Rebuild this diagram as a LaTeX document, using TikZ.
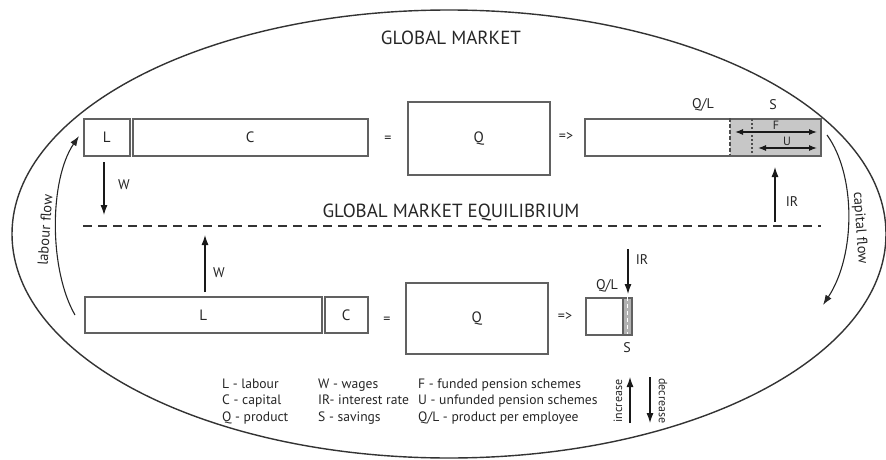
\documentclass[tikz,border=0pt]{standalone}
\usepackage{fontspec}
\setmainfont{PT Sans}
\usetikzlibrary{arrows.meta}
\begin{document}
\begin{tikzpicture}[x=1pt,y=-1pt,
  box/.style={draw=black!62, line width=1.5pt, inner sep=0pt, anchor=north west, font=\fontsize{15}{17}\selectfont, text=black!85},
  lbl/.style={font=\fontsize{14}{16}\selectfont, text=black!85, inner sep=1pt},
  small/.style={font=\fontsize{12}{14}\selectfont, text=black!85, inner sep=1pt},
  flowtxt/.style={font=\fontsize{14.5}{16}\selectfont, text=black!85, inner sep=0pt},
  leg/.style={font=\fontsize{13.6}{15}\selectfont, text=black!85, inner sep=0pt, anchor=base west},
  ttl/.style={font=\fontsize{19}{21}\selectfont, text=black!85},
  arr/.style={-{Latex[length=10pt,width=7pt]}, line width=1.1pt, black!90},
  darr/.style={{Latex[length=8pt,width=6pt]}-{Latex[length=8pt,width=6pt]}, line width=1.1pt, black!90},
  eqdash/.style={line width=1.1pt, black!80, dash pattern=on 9pt off 6pt},
  flow/.style={-{Latex[length=10pt,width=7pt]}, line width=1.1pt, black!85}
]
\useasboundingbox (0,0) rectangle (886,460);
% outer ellipse
\draw[line width=1.4pt, black!80] (449,234) ellipse [x radius=437pt, y radius=224pt];

% titles
\node[ttl] (gm) at (451,38) {GLOBAL MARKET};
\node[ttl] (gme) at (451,212) {GLOBAL MARKET EQUILIBRIUM};

% top row
\node[box, minimum width=46pt, minimum height=37pt] (L1) at (83,118) {L};
\node[box, minimum width=235pt, minimum height=37pt] (C1) at (132,118) {C};
\node[lbl] (eq1) at (388,139) {=};
\node[box, minimum width=142pt, minimum height=73pt] (Q1) at (407,101) {Q};
\node[lbl] (im1) at (566,137) {=>};
\node[anchor=north west, inner sep=0pt, fill=black!22, minimum width=90pt, minimum height=37pt] (S1) at (730,118) {};
\node[box, minimum width=236pt, minimum height=37pt] (QL1) at (584,118) {};
\draw[black!70, line width=1.2pt, dash pattern=on 4pt off 2pt] (S1.north west) -- (S1.south west);
\coordinate (dt1) at (752,119);
\coordinate (dt2) at (752,154);
\draw[black!70, line width=1.2pt, dash pattern=on 2pt off 2pt] (dt1) -- (dt2);
\coordinate (fa) at (735,132);
\coordinate (fb) at (817,132);
\draw[darr] (fa) -- (fb);
\node[small] (Flab) at (776,125) {F};
\coordinate (ua) at (758,148);
\coordinate (ub) at (817,148);
\draw[darr] (ua) -- (ub);
\node[small] (Ulab) at (787,141) {U};
\node[lbl] (ql1) at (703,105) {Q/L};
\node[lbl] (s1lab) at (773,105) {S};

% top arrows
\coordinate (ir1a) at (775,222);
\coordinate (ir1b) at (775,167);
\draw[arr] (ir1a) -- (ir1b);
\node[lbl] (ir1) at (792,202) {IR};
\coordinate (w1a) at (104,162);
\coordinate (w1b) at (104,215);
\draw[arr] (w1a) -- (w1b);
\node[lbl] (w1) at (124,185) {W};

% equilibrium line
\coordinate (eqa) at (83,226);
\coordinate (eqb) at (821,226);
\draw[eqdash] (eqa) -- (eqb);

% bottom row
\node[box, minimum width=237pt, minimum height=36pt] (L2) at (84,296) {L};
\node[box, minimum width=43pt, minimum height=36pt] (C2) at (324,296) {C};
\node[lbl] (eq2) at (387,320) {=};
\node[box, minimum width=142pt, minimum height=71pt] (Q2) at (405,282) {Q};
\node[lbl] (im2) at (565,317) {=>};
\node[anchor=north west, inner sep=0pt, fill=black!30, minimum width=8pt, minimum height=37pt] (S2) at (623,297) {};
\node[box, minimum width=46pt, minimum height=37pt] (SB) at (585,297) {};
\draw[black!62, line width=1.2pt] (S2.north west) -- (S2.south west);
\draw[white, line width=1pt, dash pattern=on 4pt off 3pt] (S2.north) -- (S2.south);
\node[lbl] (ql2) at (607,286) {Q/L};
\node[lbl] (s2lab) at (627,348) {S};
\coordinate (ir2a) at (628,249);
\coordinate (ir2b) at (628,294);
\draw[arr] (ir2a) -- (ir2b);
\node[lbl] (ir2) at (642,260) {IR};
\coordinate (w2a) at (205,292);
\coordinate (w2b) at (205,235);
\draw[arr] (w2a) -- (w2b);
\node[lbl] (w2) at (219,273) {W};

% flows
\coordinate (lfa) at (75,315);
\coordinate (lfb) at (79,136);
\draw[flow] (lfa) .. controls (49,270) and (49,180) .. (lfb);
\node[flowtxt, rotate=86] (lft) at (45,230) {labour flow};
\coordinate (cfa) at (827,135);
\coordinate (cfb) at (823,305);
\draw[flow] (cfa) .. controls (856,175) and (856,255) .. (cfb);
\node[flowtxt, rotate=-86] (cft) at (860,228) {capital flow};

% legend
\node[leg] (lg1) at (222,388) {L - labour};
\node[leg] (lg2) at (222,404.5) {C - capital};
\node[leg] (lg3) at (222,421) {Q - product};
\node[leg] (lg4) at (318,388) {W - wages};
\node[leg] (lg5) at (318,404.5) {IR- interest rate};
\node[leg] (lg6) at (318,421) {S - savings};
\node[leg] (lg7) at (418,388) {F - funded pension schemes};
\node[leg] (lg8) at (418,404.5) {U - unfunded pension schemes};
\node[leg] (lg9) at (418,421) {Q/L - product per employee};
\coordinate (inca) at (630,423);
\coordinate (incb) at (630,377);
\draw[arr] (inca) -- (incb);
\node[small, rotate=90] (inc) at (618,401) {increase};
\coordinate (deca) at (650,377);
\coordinate (decb) at (650,423);
\draw[arr] (deca) -- (decb);
\node[small, rotate=-90] (dec) at (663,401) {decrease};
\end{tikzpicture}
\end{document}
